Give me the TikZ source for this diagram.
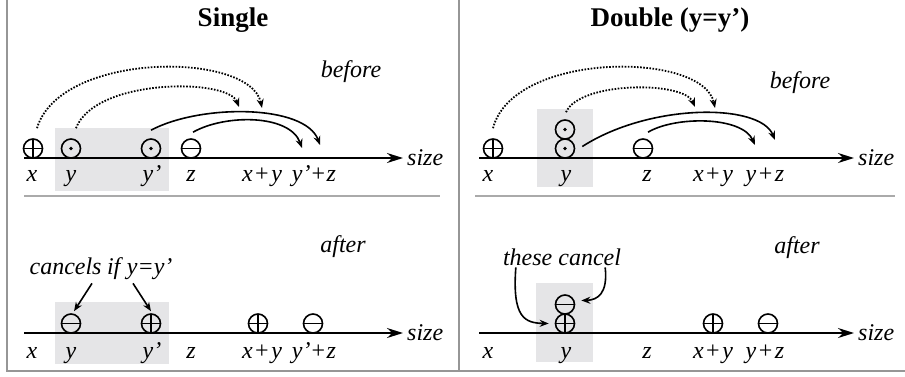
\documentclass[tikz,border=0pt]{standalone}
\usepackage{fontspec}
\usepackage{graphicx}
\setmainfont{Liberation Serif}
\usetikzlibrary{arrows.meta}
\definecolor{boxgray}{RGB}{229,229,231}
\definecolor{framegray}{RGB}{150,150,150}
\definecolor{sepgray}{RGB}{170,170,170}
\newcommand{\pl}{\kern2.5pt\textup{+}\kern2.5pt}
\tikzset{
  sym/.style={circle, draw, line width=1.6pt, minimum size=19pt, inner sep=0pt},
  plussym/.style={sym, path picture={\draw[line width=1.6pt] (path picture bounding box.north) -- (path picture bounding box.south) (path picture bounding box.west) -- (path picture bounding box.east);}},
  minussym/.style={sym, path picture={\draw[line width=1.6pt] (path picture bounding box.west) -- (path picture bounding box.east);}},
  dotsym/.style={sym, path picture={\fill (path picture bounding box.center) circle (1.8pt);}},
  lab/.style={font=\fontsize{24}{26}\selectfont\itshape, inner sep=0pt, anchor=base},
  ttl/.style={font=\fontsize{27}{29}\selectfont\bfseries, inner sep=0pt, anchor=base},
  axisline/.style={line width=1.6pt, -{Stealth[length=16pt,width=10pt]}},
  dotarrow/.style={line width=1.8pt, dash pattern=on 1.6pt off 1.5pt, -{Stealth[length=9pt,width=7pt]}},
  solarrow/.style={line width=1.6pt, -{Stealth[length=9pt,width=7pt]}},
  shade/.style={fill=boxgray, draw=none},
  frame/.style={draw=framegray, line width=2pt},
  sepline/.style={draw=sepgray, line width=1.5pt}
}
\begin{document}
\begin{tikzpicture}[x=1pt,y=-1pt]
\useasboundingbox (0,0) rectangle (905,376);
% frame
\draw[frame] (6.5,0) -- (6.5,371) -- (905,371);
\draw[frame] (459,0) -- (459,371);
\draw[sepline] (24,196) -- (440,196);
\draw[sepline] (475,196) -- (895,196);
% shaded boxes
\fill[shade] (55,128) rectangle (169,191);
\fill[shade] (537,109) rectangle (593,187);
\fill[shade] (55,302) rectangle (169,364);
\fill[shade] (536,283) rectangle (593,362);
% titles
\node[ttl] (t1) at (233,26) {Single};
\node[ttl] (t2) at (670,26) {Double (y=y’)};
% ===== Single, before =====
\node[lab] (bf1) at (351,77) {before};
\coordinate (a1s) at (24,158);
\node[lab, anchor=base west] (sz1) at (407,165) {size};
\draw[axisline] (a1s) -- ([xshift=-4pt]sz1.west |- a1s);
\node[plussym] (sx) at (33,148.5) {};
\node[dotsym] (sy) at (71,148.5) {};
\node[dotsym] (syp) at (151,148.5) {};
\node[minussym] (sz) at (191,148.5) {};
\node[lab] (lx1) at (32,181) {x};
\node[lab] (ly1) at (71,181) {y};
\node[lab] (lyp1) at (152,181) {y’};
\node[lab] (lz1) at (191,181) {z};
\node[lab] (lxy1) at (262,181) {x\pl y};
\node[lab] (lypz1) at (314,181) {y’\kern1pt\textup{+}\kern1.5pt z};
\coordinate (e1) at (262,108);
\coordinate (e2) at (239,107);
\coordinate (e3) at (320,145);
\coordinate (e4) at (302,148);
\draw[dotarrow] ([shift={(4,-10)}]sx.north) .. controls (60,51) and (250,51) .. (e1);
\draw[dotarrow] ([shift={(5,-10)}]sy.north) .. controls (95,78) and (228,78) .. (e2);
\draw[solarrow] ([shift={(0,-8)}]syp.north) .. controls (200,104) and (305,104) .. (e3);
\draw[solarrow] ([shift={(2,-6)}]sz.north) .. controls (225,114) and (290,114) .. (e4);
% ===== Double, before =====
\node[lab] (bf2) at (800,88) {before};
\coordinate (a2s) at (479,158);
\node[lab, anchor=base west] (sz2) at (858,165) {size};
\draw[axisline] (a2s) -- ([xshift=-4pt]sz2.west |- a2s);
\node[plussym] (dx) at (493,148.5) {};
\node[dotsym] (dy1) at (565,148.5) {};
\node[dotsym] (dy2) at (565,129.5) {};
\node[minussym] (dz) at (643,148.5) {};
\node[lab] (lx2) at (488,181) {x};
\node[lab] (ly2) at (566,181) {y};
\node[lab] (lz2) at (647,181) {z};
\node[lab] (lxy2) at (713,181) {x\pl y};
\node[lab] (lyz2) at (765,181) {y\pl z};
\coordinate (f1) at (715,108);
\coordinate (f2) at (695,107);
\coordinate (f3) at (775,140);
\coordinate (f4) at (755,145);
\draw[dotarrow] ([shift={(0,-10)}]dx.north) .. controls (513,51) and (703,51) .. (f1);
\draw[dotarrow] ([shift={(1,-7)}]dy2.north) .. controls (580,81) and (684,81) .. (f2);
\draw[solarrow] ([shift={(7,-2)}]dy1.east) .. controls (650,103) and (760,103) .. (f3);
\draw[solarrow] ([shift={(5,-6)}]dz.north) .. controls (675,116) and (742,116) .. (f4);
% ===== Single, after =====
\node[lab] (af1) at (343,252) {after};
\coordinate (a3s) at (24,333);
\node[lab, anchor=base west] (sz3) at (407,340) {size};
\draw[axisline] (a3s) -- ([xshift=-4pt]sz3.west |- a3s);
\node[minussym] (am1) at (71,323.5) {};
\node[plussym] (ap1) at (151,323.5) {};
\node[plussym] (ap2) at (258,323.5) {};
\node[minussym] (am2) at (313,323.5) {};
\node[lab] (lx3) at (32,358) {x};
\node[lab] (ly3) at (71,358) {y};
\node[lab] (lyp3) at (152,358) {y’};
\node[lab] (lz3) at (191,358) {z};
\node[lab] (lxy3) at (262,358) {x\pl y};
\node[lab] (lypz3) at (314,358) {y’\kern1pt\textup{+}\kern1.5pt z};
\node[lab] (cn) at (101,274) {cancels\kern5.5pt if\kern6.5pt y=y’};
\draw[solarrow] ([shift={(-9,4)}]cn.south) -- ([shift={(3,-2)}]am1.north);
\draw[solarrow] ([shift={(32,4)}]cn.south) -- ([shift={(0,-2)}]ap1.north);
% ===== Double, after =====
\node[lab] (af2) at (797,253) {after};
\coordinate (a4s) at (479,333);
\node[lab, anchor=base west] (sz4) at (858,340) {size};
\draw[axisline] (a4s) -- ([xshift=-4pt]sz4.west |- a4s);
\node[plussym] (bp) at (565,323.5) {};
\node[minussym] (bm) at (565,304.5) {};
\node[plussym] (bp2) at (713,323.5) {};
\node[minussym] (bm2) at (768,323.5) {};
\node[lab] (lx4) at (488,358) {x};
\node[lab] (ly4) at (566,358) {y};
\node[lab] (lz4) at (647,358) {z};
\node[lab] (lxy4) at (713,358) {x\pl y};
\node[lab] (lyz4) at (765,358) {y\pl z};
\node[lab] (tc) at (562,265) {these cancel};
\draw[solarrow] ([shift={(13,2)}]tc.south west) .. controls (512,318) and (525,323) .. ([xshift=-6pt]bp.west);
\draw[solarrow] ([shift={(-16,2)}]tc.south east) .. controls (608,293) and (598,300) .. ([shift={(6,-4)}]bm.east);
\end{tikzpicture}
\end{document}
